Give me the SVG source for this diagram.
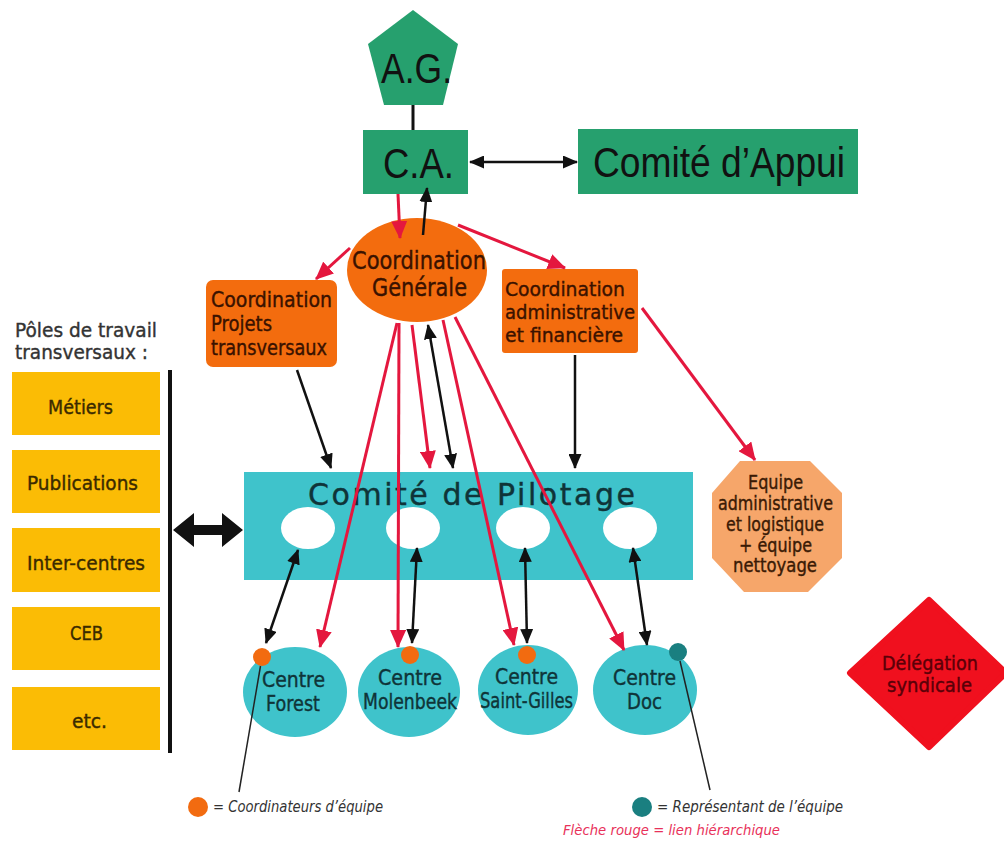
<svg xmlns="http://www.w3.org/2000/svg" width="1004" height="850" viewBox="0 0 1004 850">
<defs>
<marker id="ar" viewBox="0 0 18 16" refX="17" refY="8" markerWidth="18" markerHeight="16" orient="auto-start-reverse" markerUnits="userSpaceOnUse"><path d="M0,0 L18,8 L0,16 z" fill="#e4173e"/></marker>
<marker id="ab" viewBox="0 0 15 13" refX="14" refY="6.5" markerWidth="15" markerHeight="13" orient="auto-start-reverse" markerUnits="userSpaceOnUse"><path d="M0,0 L15,6.5 L0,13 z" fill="#111"/></marker>
</defs>
<style>
.g{fill:#26a06e}
.o{fill:#f36c0e}
.c{fill:#3fc3cb}
.y{fill:#fbbc05}
.wh{fill:#fff}
.t{font-family:"DejaVu Sans","Liberation Sans",sans-serif;stroke-width:0.4}
.a{font-family:"Liberation Sans",Arial,sans-serif;fill:#111}
.to{fill:#3a1200;stroke:#3a1200}
.tc{fill:#0f3438;stroke:#0f3438}
.ty{fill:#3a2a00;stroke:#3a2a00}
.te{fill:#3a1a05;stroke:#3a1a05}
.td{fill:#5a0008;stroke:#5a0008}
.tg{fill:#333;stroke:#333}
.red{stroke:#e4173e;stroke-width:3;fill:none;marker-end:url(#ar)}
.blk{stroke:#111;stroke-width:2.5;fill:none;marker-end:url(#ab)}
.dbl{marker-start:url(#ab)}
.thin{stroke:#222;stroke-width:1.5;fill:none}
.leg{font-family:"DejaVu Sans",sans-serif;font-style:italic;font-size:15px;fill:#333}
</style>
<rect width="1004" height="850" fill="#fff"/>

<g id="ag">
<polygon class="g" points="413,10 458,44 443,105 384,105 368,44"/>
<text class="a" x="381" y="83" font-size="42" textLength="71" lengthAdjust="spacingAndGlyphs">A.G.</text>
</g>
<g id="ca">
<rect class="g" x="363" y="130" width="105" height="64"/>
<text class="a" x="383" y="178" font-size="42" textLength="71" lengthAdjust="spacingAndGlyphs">C.A.</text>
</g>
<g id="comite-appui">
<rect class="g" x="578" y="129" width="280" height="65"/>
<text class="a" x="593" y="177" font-size="42" textLength="252" lengthAdjust="spacingAndGlyphs">Comité d’Appui</text>
</g>

<g id="coord-generale">
<ellipse class="o" cx="417" cy="270" rx="70" ry="52"/>
<text class="t to" x="352" y="269" font-size="24" textLength="134" lengthAdjust="spacingAndGlyphs">Coordination</text>
<text class="t to" x="372" y="296" font-size="24" textLength="95" lengthAdjust="spacingAndGlyphs">Générale</text>
</g>

<g id="coord-projets">
<rect class="o" x="206" y="280" width="131" height="87" rx="7"/>
<text class="t to" x="211" y="307" font-size="21" textLength="121" lengthAdjust="spacingAndGlyphs">Coordination</text>
<text class="t to" x="211" y="331" font-size="21" textLength="61" lengthAdjust="spacingAndGlyphs">Projets</text>
<text class="t to" x="211" y="355" font-size="21" textLength="116" lengthAdjust="spacingAndGlyphs">transversaux</text>
</g>

<g id="coord-admin">
<rect class="o" x="502" y="269" width="136" height="84" rx="3"/>
<text class="t to" x="505" y="296" font-size="20" textLength="120" lengthAdjust="spacingAndGlyphs">Coordination</text>
<text class="t to" x="505" y="319" font-size="20" textLength="130" lengthAdjust="spacingAndGlyphs">administrative</text>
<text class="t to" x="505" y="342" font-size="20" textLength="118" lengthAdjust="spacingAndGlyphs">et financière</text>
</g>

<g id="poles">
<text class="t tg" x="15" y="337" font-size="20" textLength="142" lengthAdjust="spacingAndGlyphs">Pôles de travail</text>
<text class="t tg" x="15" y="359" font-size="20" textLength="133" lengthAdjust="spacingAndGlyphs">transversaux :</text>
</g>
<g id="metiers">
<rect class="y" x="12" y="372" width="148" height="63"/>
<text class="t ty" x="48" y="414" font-size="20" textLength="65" lengthAdjust="spacingAndGlyphs">Métiers</text>
</g>
<g id="publications">
<rect class="y" x="12" y="450" width="148" height="63"/>
<text class="t ty" x="27" y="490" font-size="20" textLength="111" lengthAdjust="spacingAndGlyphs">Publications</text>
</g>
<g id="inter-centres">
<rect class="y" x="12" y="528" width="148" height="64"/>
<text class="t ty" x="27" y="570" font-size="20" textLength="118" lengthAdjust="spacingAndGlyphs">Inter-centres</text>
</g>
<g id="ceb">
<rect class="y" x="12" y="607" width="148" height="63"/>
<text class="t ty" x="70" y="640" font-size="20" textLength="33" lengthAdjust="spacingAndGlyphs">CEB</text>
</g>
<g id="etc">
<rect class="y" x="12" y="687" width="148" height="63"/>
<text class="t ty" x="72" y="728" font-size="20" textLength="35" lengthAdjust="spacingAndGlyphs">etc.</text>
</g>

<g id="comite-pilotage">
<rect class="c" x="244" y="472" width="449" height="108"/>
<text class="t tc" x="308" y="505" font-size="30" textLength="327" lengthAdjust="spacing">Comité de Pilotage</text>
<ellipse class="wh" cx="308" cy="528" rx="27" ry="21"/>
<ellipse class="wh" cx="413" cy="528" rx="27" ry="21"/>
<ellipse class="wh" cx="523" cy="528" rx="27" ry="21"/>
<ellipse class="wh" cx="630" cy="528" rx="27" ry="21"/>
</g>

<g id="centre-forest">
<ellipse class="c" cx="295" cy="692" rx="52" ry="45"/>
<text class="t tc" x="262" y="687" font-size="21" textLength="63" lengthAdjust="spacingAndGlyphs">Centre</text>
<text class="t tc" x="266" y="711" font-size="21" textLength="54" lengthAdjust="spacingAndGlyphs">Forest</text>
<circle cx="262" cy="657" r="9" fill="#f26b10"/>
</g>
<g id="centre-molenbeek">
<ellipse class="c" cx="409" cy="692" rx="51" ry="45"/>
<text class="t tc" x="378" y="685" font-size="21" textLength="64" lengthAdjust="spacingAndGlyphs">Centre</text>
<text class="t tc" x="363" y="709" font-size="21" textLength="94" lengthAdjust="spacingAndGlyphs">Molenbeek</text>
<circle cx="410" cy="655" r="9" fill="#f26b10"/>
</g>
<g id="centre-saint-gilles">
<ellipse class="c" cx="528" cy="690" rx="50" ry="45"/>
<text class="t tc" x="495" y="684" font-size="21" textLength="63" lengthAdjust="spacingAndGlyphs">Centre</text>
<text class="t tc" x="480" y="708" font-size="21" textLength="93" lengthAdjust="spacingAndGlyphs">Saint-Gilles</text>
<circle cx="527" cy="655" r="9" fill="#f26b10"/>
</g>
<g id="centre-doc">
<ellipse class="c" cx="645" cy="690" rx="52" ry="45"/>
<text class="t tc" x="613" y="685" font-size="21" textLength="63" lengthAdjust="spacingAndGlyphs">Centre</text>
<text class="t tc" x="627" y="709" font-size="21" textLength="35" lengthAdjust="spacingAndGlyphs">Doc</text>
<circle cx="678" cy="652" r="9" fill="#1a7f80"/>
</g>

<g id="equipe-admin">
<polygon fill="#f6a66a" points="740,461 810,461 842,493 842,558 808,592 744,592 712,558 712,493"/>
<text class="t te" x="748" y="489" font-size="19" textLength="55" lengthAdjust="spacingAndGlyphs">Equipe</text>
<text class="t te" x="718" y="510" font-size="19" textLength="115" lengthAdjust="spacingAndGlyphs">administrative</text>
<text class="t te" x="726" y="531" font-size="19" textLength="98" lengthAdjust="spacingAndGlyphs">et logistique</text>
<text class="t te" x="739" y="552" font-size="19" textLength="73" lengthAdjust="spacingAndGlyphs">+ équipe</text>
<text class="t te" x="733" y="572" font-size="19" textLength="84" lengthAdjust="spacingAndGlyphs">nettoyage</text>
</g>

<g id="delegation">
<polygon fill="#f0101e" stroke="#f0101e" stroke-width="6" stroke-linejoin="round" points="929,600 1006,673 929,747 850,673"/>
<text class="t td" x="882" y="670" font-size="19" textLength="96" lengthAdjust="spacingAndGlyphs">Délégation</text>
<text class="t td" x="887" y="692" font-size="19" textLength="85" lengthAdjust="spacingAndGlyphs">syndicale</text>
</g>

<g id="legend">
<circle cx="198" cy="807" r="10" fill="#f26b10"/>
<text class="leg" x="213" y="812" textLength="170" lengthAdjust="spacingAndGlyphs">= Coordinateurs d’équipe</text>
<circle cx="642" cy="807" r="10" fill="#1a7f80"/>
<text class="leg" x="657" y="812" textLength="186" lengthAdjust="spacingAndGlyphs">= Représentant de l’équipe</text>
<text class="leg" style="fill:#e8315a;font-size:14px" x="563" y="835" textLength="217" lengthAdjust="spacingAndGlyphs">Flèche rouge = lien hiérarchique</text>
</g>

<g id="connectors">
<line x1="413" y1="105" x2="413" y2="130" stroke="#111" stroke-width="3"/>
<line class="blk dbl" x1="470" y1="162" x2="577" y2="162"/>
<line class="red" x1="398" y1="194" x2="400" y2="238"/>
<line class="blk" x1="423" y1="235" x2="427" y2="188"/>
<line class="red" x1="350" y1="248" x2="316" y2="279"/>
<line class="red" x1="458" y1="225" x2="565" y2="268"/>
<line class="red" x1="642" y1="308" x2="755" y2="460"/>
<line class="red" x1="397" y1="323" x2="320" y2="647"/>
<line class="red" x1="399" y1="323" x2="398" y2="647"/>
<line class="red" x1="412" y1="325" x2="430" y2="468"/>
<line class="blk dbl" x1="428" y1="325" x2="453" y2="468"/>
<line class="red" x1="443" y1="320" x2="514" y2="645"/>
<line class="red" x1="455" y1="317" x2="624" y2="650"/>
<line class="blk" x1="297" y1="370" x2="331" y2="468"/>
<line class="blk" x1="575" y1="355" x2="575" y2="468"/>
<line class="blk dbl" x1="298" y1="550" x2="266" y2="643"/>
<line class="blk dbl" x1="417" y1="548" x2="412" y2="643"/>
<line class="blk dbl" x1="525" y1="548" x2="527" y2="643"/>
<line class="blk dbl" x1="633" y1="548" x2="647" y2="645"/>
<polygon points="173,530 194,513 194,525 222,525 222,513 243,530 222,547 222,535 194,535 194,547" fill="#111"/>
<line x1="170" y1="370" x2="170" y2="753" stroke="#111" stroke-width="4"/>
<line class="thin" x1="260.5" y1="666" x2="239" y2="792"/>
<line class="thin" x1="680" y1="661" x2="710" y2="790"/>
</g>
</svg>
